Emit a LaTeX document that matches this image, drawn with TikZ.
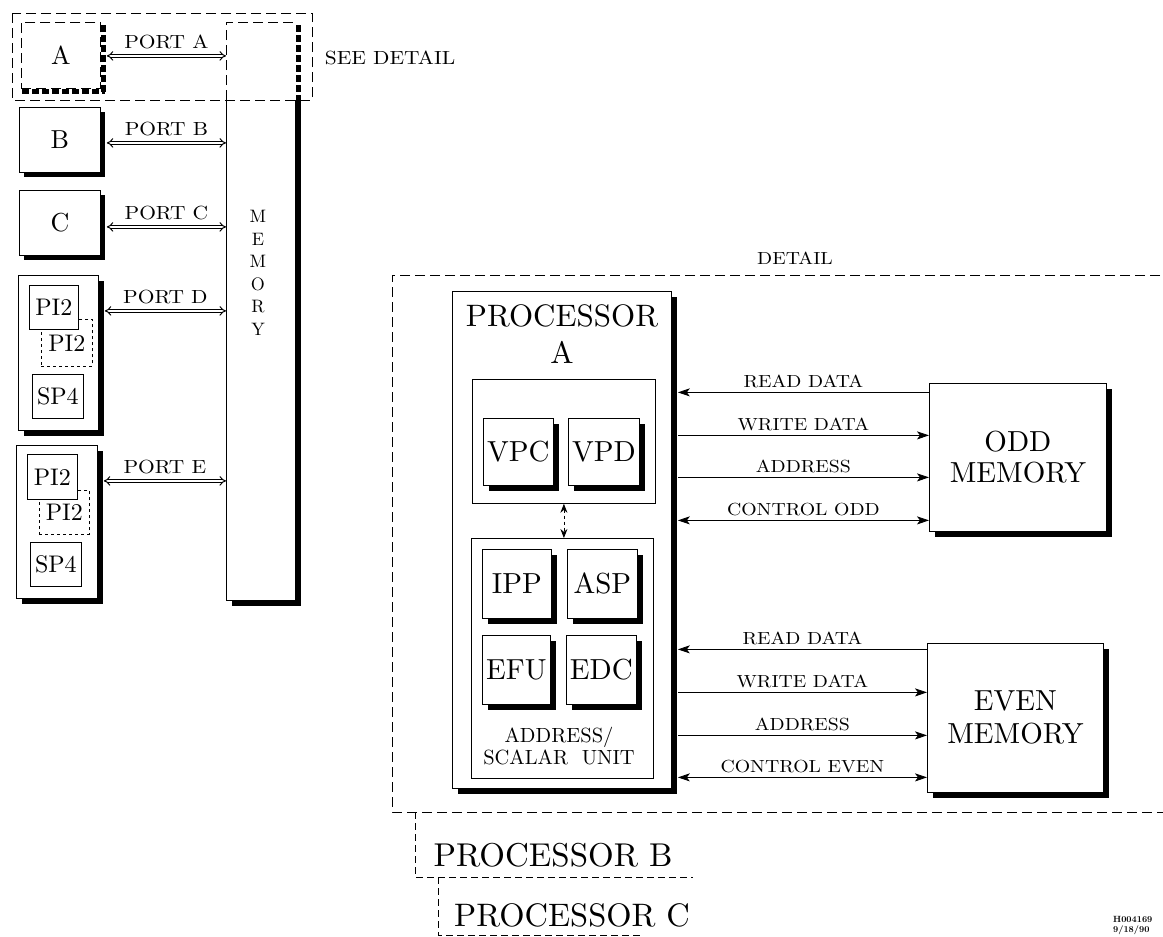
\documentclass[tikz,border=0pt]{standalone}
\usepackage{fontspec}
\setmainfont{lmroman10-regular.otf}[BoldFont=lmroman10-bold.otf]
\usepackage{graphicx}
\usetikzlibrary{arrows.meta,shadows}
\newcommand{\fsz}[1]{\fontsize{#1}{1.08\dimexpr#1pt\relax}\selectfont}
\newcommand{\hx}[1]{\scalebox{1.13}[1]{#1}}
\begin{document}
\begin{tikzpicture}[x=1pt,y=-1pt,
  >={Stealth[length=12pt, width=8pt, inset=3pt]},
  box/.style={draw, fill=white, line width=0.8pt, inner sep=0pt, anchor=north west},
  shad/.style={drop shadow={shadow xshift=#1, shadow yshift=-#1, fill=black, opacity=1}},
  shad/.default=5pt,
  dsh/.style={line width=0.8pt, dash pattern=on 10pt off 5pt},
  dsh2/.style={line width=0.8pt, dash pattern=on 7pt off 4pt},
  thickdash/.style={line width=5pt, dash pattern=on 7pt off 3pt},
  port/.style={draw, double, double distance=2.2pt, line width=1pt, {Implies}-{Implies}},
  sig/.style={line width=0.8pt},
  plab/.style={midway, above=3pt, font=\fsz{19}},
  lab/.style={midway, above=1pt, font=\fsz{17.5}},
  unit/.style={box, shad=6pt, font=\fsz{29}},
  small/.style={box, font=\fsz{24}},
]
\useasboundingbox (0,0) rectangle (1163,937);

% ---------------- left part ----------------
\node[box, shad=6pt, minimum width=69pt, minimum height=578pt] (mem) at (226,22) {};
\fill[white] (220,17) rectangle (306,100);
\draw[dsh] (226,100) -- (226,22) -- (295,22);
\draw[thickdash] (298,25) -- (298,100);
\node[font=\fontsize{18}{22.5}\selectfont, align=center] (memtxt) at (258,273)
  {M\\E\\M\\O\\R\\Y};

\draw[dsh] (12,13) rectangle (312,100);
\node[font=\fsz{19}] (see) at (390,58) {\hx{SEE DETAIL}};

% box A (dashed)
\node[box, dsh, minimum width=79pt, minimum height=66pt, font=\fsz{26}] (A) at (21,22) {A};
\draw[thickdash] (103,25) -- (103,94);
\draw[thickdash] (22,91) -- (105,91);

\node[box, shad, minimum width=81pt, minimum height=65pt, font=\fsz{26}] (B) at (19,107) {B};
\node[box, shad, minimum width=81pt, minimum height=65pt, font=\fsz{26}] (C) at (19,190) {C};

% box D
\node[box, shad=6pt, minimum width=80pt, minimum height=155pt] (D) at (18,275) {};
\node[small, dashed, minimum width=51pt, minimum height=47pt] (D2) at (41,319) {};
\node[font=\fsz{24}] at (D2) {PI2};
\node[small, minimum width=49pt, minimum height=44pt] (D1) at (29,285) {PI2};
\node[small, minimum width=51pt, minimum height=44pt] (D3) at (32,374) {SP4};

% box E
\node[box, shad=6pt, minimum width=81pt, minimum height=153pt] (E) at (16,445) {};
\node[small, dashed, minimum width=50pt, minimum height=44pt] (E2) at (39,490) {};
\node[font=\fsz{24}] at (E2) {PI2};
\node[small, minimum width=50pt, minimum height=45pt] (E1) at (27,454) {PI2};
\node[small, minimum width=51pt, minimum height=44pt] (E3) at (30,542) {SP4};

% ports
\draw[port] ([xshift=6pt,yshift=-0.5pt]A.east) -- node[plab] {\hx{PORT A}} ([yshift=-0.5pt]A.east -| mem.west);
\draw[port] ([xshift=6pt,yshift=-3pt]B.east) -- node[plab] {\hx{PORT B}} ([yshift=-3pt]B.east -| mem.west);
\draw[port] ([xshift=6pt,yshift=-4pt]C.east) -- node[plab] {\hx{PORT C}} ([yshift=-4pt]C.east -| mem.west);
\draw[port] ([xshift=6pt,yshift=42pt]D.east) -- node[plab] {\hx{PORT D}} ([yshift=42pt]D.east -| mem.west);
\draw[port] ([xshift=6pt,yshift=41pt]E.east) -- node[plab] {\hx{PORT E}} ([yshift=41pt]E.east -| mem.west);

% ---------------- detail ----------------
\draw[dsh] (1175,275) -- (392,275) -- (392,812) -- (1175,812);
\node[font=\fsz{17.5}] (detail) at (795,258) {\hx{DETAIL}};

\node[box, shad=6pt, minimum width=219pt, minimum height=497pt] (procA) at (452,291) {};
\node[font=\fsz{31}] (ptitle) at (562,316) {PROCESSOR};
\node[font=\fsz{31}] (ptitleA) at (562,352) {A};

\node[box, minimum width=183pt, minimum height=124pt] (vpbox) at (472,379) {};
\node[unit, minimum width=70pt, minimum height=67pt] (vpc) at (483,418) {VPC};
\node[unit, minimum width=71pt, minimum height=67pt] (vpd) at (568,418) {VPD};

\node[box, minimum width=182pt, minimum height=240pt] (asbox) at (471,538) {};
\node[unit, minimum width=69pt, minimum height=69pt] (ipp) at (482,549) {IPP};
\node[unit, minimum width=70pt, minimum height=69pt] (asp) at (567,549) {ASP};
\node[unit, minimum width=68pt, minimum height=69pt] (efu) at (482,635) {EFU};
\node[unit, minimum width=70pt, minimum height=69pt] (edc) at (566,635) {EDC};
\node[align=center, font=\fontsize{20.5}{22}\selectfont] (astxt) at (559,746)
  {ADDRESS/\\SCALAR\ \ UNIT};

\draw[dashed, line width=0.8pt, {Stealth[length=9pt,width=7pt]}-{Stealth[length=9pt,width=7pt]}]
  (vpbox.south) -- (vpbox.south |- asbox.north);

\coordinate (pr) at ([xshift=6pt]procA.east);

\node[box, shad=6pt, minimum width=177pt, minimum height=148pt, align=center,
  font=\fontsize{29}{31}\selectfont] (odd) at (929,383) {ODD\\MEMORY};
\node[box, shad=6pt, minimum width=176pt, minimum height=149pt, align=center,
  font=\fontsize{29}{33}\selectfont] (even) at (927,643) {EVEN\\MEMORY};

\draw[sig, <-] ([yshift=65pt]odd.west -| pr) -- node[lab] {\hx{READ DATA}} ([yshift=65pt]odd.west);
\draw[sig, ->] ([yshift=22pt]odd.west -| pr) -- node[lab] {\hx{WRITE DATA}} ([yshift=22pt]odd.west);
\draw[sig, ->] ([yshift=-20pt]odd.west -| pr) -- node[lab] {\hx{ADDRESS}} ([yshift=-20pt]odd.west);
\draw[sig, <->] ([yshift=-63pt]odd.west -| pr) -- node[lab] {\hx{CONTROL ODD}} ([yshift=-63pt]odd.west);

\draw[sig, <-] ([yshift=68.5pt]even.west -| pr) -- node[lab] {\hx{READ DATA}} ([yshift=68.5pt]even.west);
\draw[sig, ->] ([yshift=25.5pt]even.west -| pr) -- node[lab] {\hx{WRITE DATA}} ([yshift=25.5pt]even.west);
\draw[sig, ->] ([yshift=-17.5pt]even.west -| pr) -- node[lab] {\hx{ADDRESS}} ([yshift=-17.5pt]even.west);
\draw[sig, <->] ([yshift=-59.5pt]even.west -| pr) -- node[lab] {\hx{CONTROL EVEN}} ([yshift=-59.5pt]even.west);

% processors B and C
\draw[dsh2] (415,812) -- (415,877) -- (693,877);
\node[font=\fsz{33}] (pB) at (553,855) {PROCESSOR B};
\draw[dsh2] (438,877) -- (438,935) -- (640,935);
\node[font=\fsz{32.5}] (pC) at (572,915) {PROCESSOR C};

\node[anchor=north west, inner sep=0pt, align=left, font=\fontsize{9}{10}\selectfont\bfseries] (code) at (1113,916) {H004169\\9/18/90};
\end{tikzpicture}
\end{document}
